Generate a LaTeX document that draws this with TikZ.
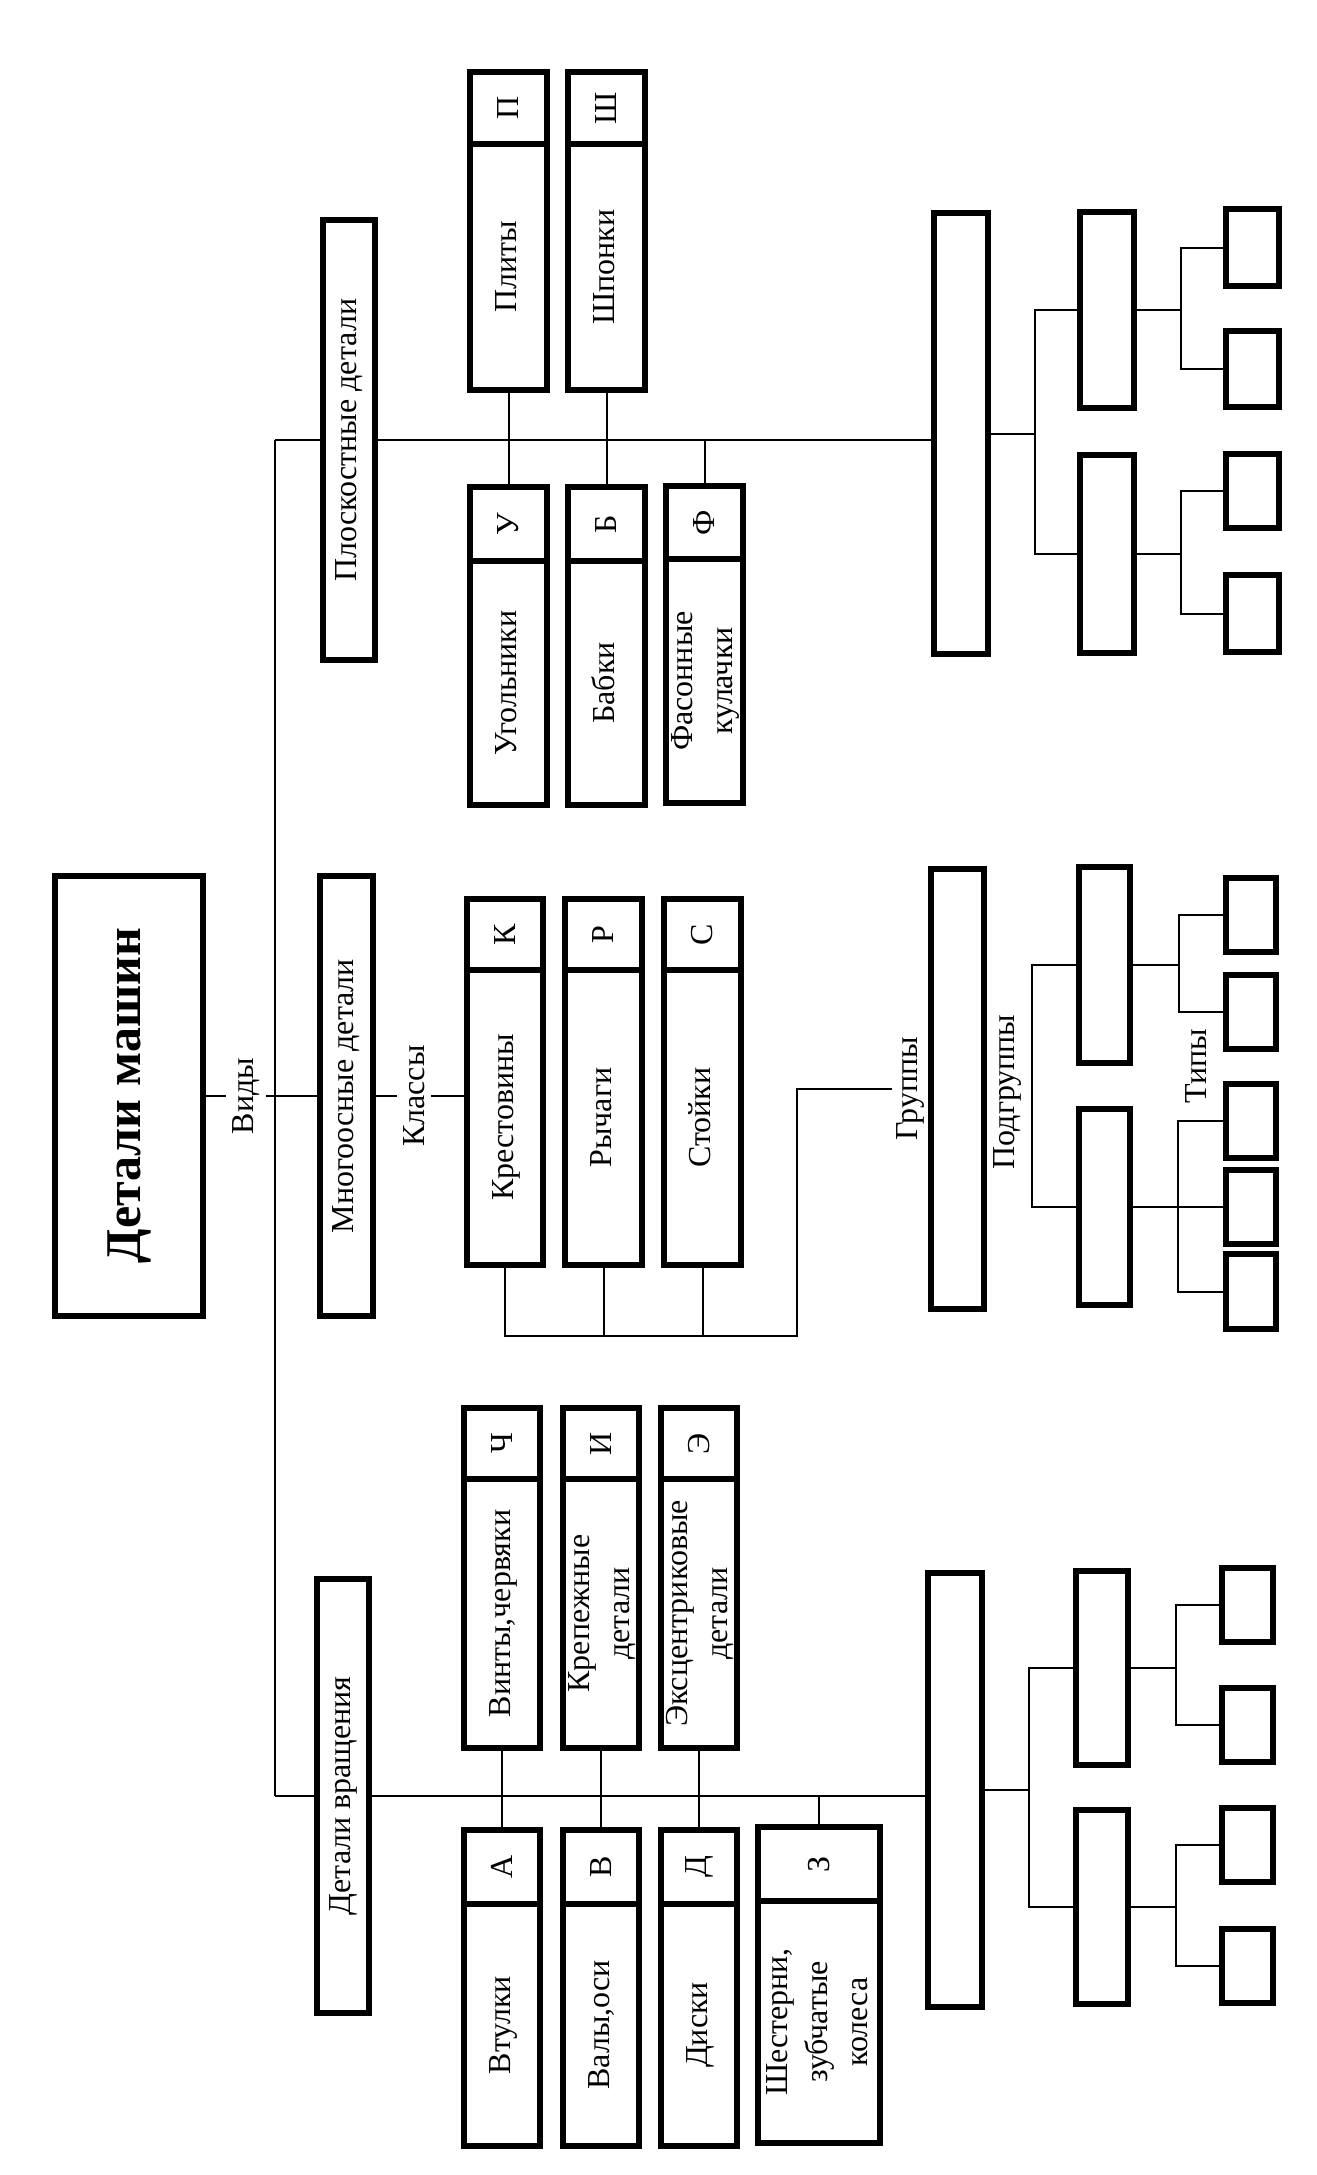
\documentclass[tikz,border=0pt]{standalone}
\usepackage{fontspec}
\setmainfont{Liberation Serif}
\usetikzlibrary{fit,calc}
\tikzset{
  box/.style={draw, line width=2.6pt, inner sep=0pt, fill=white},
  divline/.style={line width=2.6pt},
  conn/.style={line width=1pt},
  txt/.style={font=\fontsize{16}{20}\selectfont, inner sep=0pt},
  lbl/.style={font=\fontsize{16}{20}\selectfont, inner sep=3pt},
}
% #1 name, #2 x1, #3 y1, #4 x2, #5 y2, #6 y of divider, #7 letter, #8 text
\newcommand\clsbox[8]{%
  \node[box, fit={(#2,#3) (#4,#5)}] (#1) {};
  \draw[divline] (#2,#6) -- (#4,#6);
  \node[txt] (#1-l) at ({(#2+#4)/2},{(#3+#6)/2}) {\rotatebox{90}{#7}};
  \node[txt] (#1-t) at ({(#2+#4)/2},{(#6+#5)/2}) {\rotatebox{90}{\begin{tabular}{@{}c@{}}#8\end{tabular}}};
}
\newcommand\pbox[5]{\node[box, fit={(#2,#3) (#4,#5)}] (#1) {};}
\begin{document}
\begin{tikzpicture}[x=0.5pt,y=-0.5pt]
\fill[white] (0,0) rectangle (1317,2175);
\useasboundingbox (0,0) rectangle (1317,2175);

% ---------- main and kinds ----------
\node[box, fit={(55,876) (203,1316)}] (dm) {};
\node[txt, font=\fontsize{25}{30}\selectfont\bfseries] (dm-t) at (dm.center) {\rotatebox{90}{Детали машин}};

\node[box, fit={(323,220) (375,660)}] (pd) {};
\node[txt] (pd-t) at (pd.center) {\rotatebox{90}{Плоскостные детали}};
\node[box, fit={(320,876) (373,1316)}] (mn) {};
\node[txt] (mn-t) at (mn.center) {\rotatebox{90}{Многоосные детали}};
\node[box, fit={(317,1579) (369,2013)}] (dv) {};
\node[txt] (dv-t) at (dv.center) {\rotatebox{90}{Детали вращения}};

\node[lbl] (vidy) at (246,1096) {\rotatebox{90}{Виды}};
\node[lbl] (klassy) at (414,1096) {\rotatebox{90}{Классы}};

\coordinate (t1) at (275,440);
\coordinate (t3) at (275,1796);

% ---------- classes: flat parts ----------
\clsbox{pl}{470}{72}{547}{390}{144}{П}{Плиты}
\clsbox{sp}{568}{72}{645}{390}{144}{Ш}{Шпонки}
\clsbox{ug}{470}{487}{547}{805}{561}{У}{Угольники}
\clsbox{bb}{568}{487}{645}{805}{561}{Б}{Бабки}
\clsbox{fs}{666}{486}{743}{803}{559}{Ф}{Фасонные\\кулачки}

% ---------- classes: multi-axis parts ----------
\clsbox{kr}{467}{899}{543}{1265}{970}{К}{Крестовины}
\clsbox{rc}{565}{899}{642}{1265}{970}{Р}{Рычаги}
\clsbox{st}{664}{899}{741}{1265}{970}{С}{Стойки}

% ---------- classes: rotation parts ----------
\clsbox{vn}{464}{1408}{540}{1748}{1479}{Ч}{Винты,червяки}
\clsbox{kp}{563}{1408}{639}{1748}{1479}{И}{Крепежные\\детали}
\clsbox{ek}{661}{1408}{737}{1748}{1479}{Э}{Эксцентриковые\\детали}
\clsbox{vt}{464}{1830}{540}{2146}{1904}{А}{Втулки}
\clsbox{vl}{563}{1830}{639}{2146}{1904}{В}{Валы,оси}
\clsbox{dk}{661}{1830}{737}{2146}{1904}{Д}{Диски}
\clsbox{sh}{758}{1827}{880}{2143}{1901}{З}{Шестерни,\\зубчатые\\колеса}

% ---------- groups, subgroups, types (top) ----------
\pbox{g1}{934}{213}{988}{654}
\pbox{s1}{1080}{212}{1134}{408}
\pbox{s2}{1080}{455}{1134}{653}
\pbox{t11}{1226}{209}{1279}{286}
\pbox{t12}{1226}{331}{1279}{407}
\pbox{t13}{1226}{454}{1279}{528}
\pbox{t14}{1226}{575}{1279}{652}

% ---------- groups, subgroups, types (middle) ----------
\pbox{g2}{931}{869}{984}{1309}
\pbox{s3}{1079}{867}{1130}{1063}
\pbox{s4}{1079}{1109}{1130}{1305}
\pbox{t21}{1226}{878}{1276}{952}
\pbox{t22}{1226}{975}{1276}{1049}
\pbox{t23}{1226}{1084}{1276}{1158}
\pbox{t24}{1226}{1170}{1276}{1244}
\pbox{t25}{1226}{1254}{1276}{1329}
\node[lbl, inner sep=2pt, anchor=east] (gruppy) at (g2.west) {\rotatebox{90}{Группы}};
\node[txt] (podgr) at (1007,1092) {\rotatebox{90}{Подгруппы}};
\node[txt] (tipy) at (1196,1066) {\rotatebox{90}{Типы}};

% ---------- groups, subgroups, types (bottom) ----------
\pbox{g3}{928}{1573}{982}{2007}
\pbox{s5}{1076}{1571}{1128}{1765}
\pbox{s6}{1076}{1810}{1128}{2004}
\pbox{t31}{1222}{1568}{1273}{1642}
\pbox{t32}{1222}{1688}{1273}{1762}
\pbox{t33}{1222}{1808}{1273}{1882}
\pbox{t34}{1222}{1929}{1273}{2003}

% ---------- connectors ----------
\begin{scope}[conn]
% trunk
\draw (t1) -- (t3);
\draw (dm.east) -- (vidy.west);
\draw (vidy.east) -- (mn.west);
\draw (mn.east) -- (klassy.west);
\draw (klassy.east) -- (klassy.east -| kr.west);

% top branch
\draw (t1) -- (pd.west);
\draw (pd.east) -- (pd.east -| g1.west);
\draw (pl.south) -- (ug.north);
\draw (sp.south) -- (bb.north);
\draw (fs.north) -- (fs.north |- t1);
\draw (g1.east) -- ++(44,0) coordinate (a1);
\draw (s1.west) -| (a1) |- (s2.west);
\draw (s1.east) -- ++(44,0) coordinate (b1);
\draw (t11.west) -| (b1) |- (t12.west);
\draw (s2.east) -- ++(44,0) coordinate (b2);
\draw (t13.west) -| (b2) |- (t14.west);

% middle branch
\coordinate (mb) at (797,1336);
\draw (kr.south) -- (kr.south |- mb) -- (mb) -- (mb |- gruppy.west) -- (gruppy.west);
\draw (rc.south) -- (rc.south |- mb);
\draw (st.south) -- (st.south |- mb);
\coordinate (a2) at (1032,1087);
\draw (s3.west) -| (a2) |- (s4.west);
\draw (s3.east) -- ++(46,0) coordinate (b3);
\draw (t21.west) -| (b3) |- (t22.west);
\path (s4.east) -- ++(45,0) coordinate (b4);
\draw (s4.east) -- (s4.east -| t24.west);
\draw (t23.west) -| (b4) |- (t25.west);

% bottom branch
\draw (t3) -- (dv.west);
\draw (dv.east) -- (dv.east -| g3.west);
\draw (vn.south) -- (vt.north);
\draw (kp.south) -- (vl.north);
\draw (ek.south) -- (dk.north);
\draw (sh.north) -- (sh.north |- t3);
\draw (g3.east) -- ++(44,0) coordinate (a3);
\draw (s5.west) -| (a3) |- (s6.west);
\draw (s5.east) -- ++(45,0) coordinate (b5);
\draw (t31.west) -| (b5) |- (t32.west);
\draw (s6.east) -- ++(45,0) coordinate (b6);
\draw (t33.west) -| (b6) |- (t34.west);
\end{scope}
\end{tikzpicture}
\end{document}
